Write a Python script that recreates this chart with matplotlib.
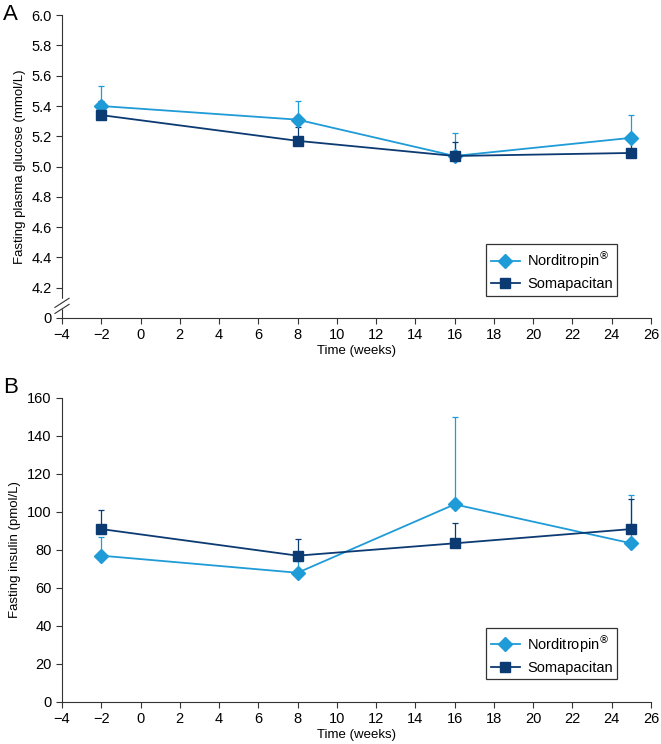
import matplotlib
matplotlib.use("Agg")
import matplotlib.pyplot as plt
from matplotlib.lines import Line2D
import numpy as np

plt.rcParams["font.family"] = ["Liberation Sans", "DejaVu Sans"]

# ============ data ============
weeks = [-2, 8, 16, 25]

# A: fasting plasma glucose (mmol/L), mean and upper error bar end
glu_nord = [5.40, 5.31, 5.07, 5.19]
glu_nord_top = [5.53, 5.43, 5.22, 5.34]
glu_soma = [5.34, 5.17, 5.07, 5.09]
glu_soma_top = [5.43, 5.26, 5.16, 5.19]

# B: fasting insulin (pmol/L)
ins_nord = [77, 68, 104, 83.5]
ins_nord_top = [87, 74, 150, 109]
ins_soma = [91, 77, 83.5, 91]
ins_soma_top = [101, 86, 94, 107]

x_ticks = list(range(-4, 27, 2))
glu_ticks = [4.0, 4.2, 4.4, 4.6, 4.8, 5.0, 5.2, 5.4, 5.6, 5.8, 6.0]
glu_labels = ["0"] + [f"{v:.1f}" for v in glu_ticks[1:]]
ins_ticks = list(range(0, 161, 20))

C_NORD = "#1f9bd7"
C_SOMA = "#0c3a72"
NORD_LABEL = r"Norditropin$^{\circledR}$"
MS = 7


def draw_series(ax, mean, top, color, marker):
    mean = np.array(mean)
    up = np.array(top) - mean
    ax.errorbar(weeks, mean, yerr=[np.zeros_like(up), up], color=color,
                ecolor=color, elinewidth=0.9, capsize=2, capthick=0.9,
                marker=marker, markersize=MS, linewidth=1.3)


def style_axes(ax):
    for s in ["top", "right"]:
        ax.spines[s].set_visible(False)
    for s in ["left", "bottom"]:
        ax.spines[s].set_linewidth(0.8)
        ax.spines[s].set_color("#333333")
    ax.set_xlim(-4, 26)
    ax.set_xticks(x_ticks)
    ax.tick_params(labelsize=10.5, length=4, width=0.8, color="#333333")
    ax.set_xlabel("Time (weeks)", fontsize=9.5, labelpad=2)
    handles = [
        Line2D([], [], color=C_NORD, marker="D", markersize=MS, lw=1.3),
        Line2D([], [], color=C_SOMA, marker="s", markersize=MS, lw=1.3),
    ]
    leg = ax.legend(handles, [NORD_LABEL, "Somapacitan"], loc="lower right",
                    bbox_to_anchor=(0.955, 0.05), fancybox=False, frameon=True,
                    fontsize=10.5, handlelength=2.0, borderpad=0.3,
                    labelspacing=0.45, handletextpad=0.5)
    leg.get_frame().set_edgecolor("black")
    leg.get_frame().set_linewidth(0.9)


fig = plt.figure(figsize=(6.61, 7.44), dpi=100)

# ---- Panel A ----
axA = fig.add_axes([0.0938, 0.5726, 0.891, 0.407])
draw_series(axA, glu_nord, glu_nord_top, C_NORD, "D")
draw_series(axA, glu_soma, glu_soma_top, C_SOMA, "s")
axA.set_ylim(4.0, 6.0)
axA.set_yticks(glu_ticks)
axA.set_yticklabels(glu_labels)
axA.set_ylabel("Fasting plasma glucose (mmol/L)", fontsize=9.5, labelpad=4)
style_axes(axA)

# axis break marks between 0 and 4.2
trans = axA.get_yaxis_transform()
axA.plot([0, 0], [4.07, 4.12], transform=trans, color="white", lw=2.5,
         clip_on=False, zorder=5)
for yb in [4.06, 4.10]:
    axA.plot([-0.012, 0.012], [yb - 0.03, yb + 0.03], transform=trans,
             color="#333333", lw=0.8, clip_on=False, zorder=6)

# ---- Panel B ----
axB = fig.add_axes([0.0938, 0.0565, 0.891, 0.4086])
draw_series(axB, ins_nord, ins_nord_top, C_NORD, "D")
draw_series(axB, ins_soma, ins_soma_top, C_SOMA, "s")
axB.set_ylim(0, 160)
axB.set_yticks(ins_ticks)
axB.set_ylabel("Fasting insulin (pmol/L)", fontsize=9.5, labelpad=4)
style_axes(axB)

fig.text(0.004, 0.995, "A", fontsize=16, va="top", ha="left")
fig.text(0.004, 0.493, "B", fontsize=16, va="top", ha="left")

fig.savefig("out.png", dpi=100)
